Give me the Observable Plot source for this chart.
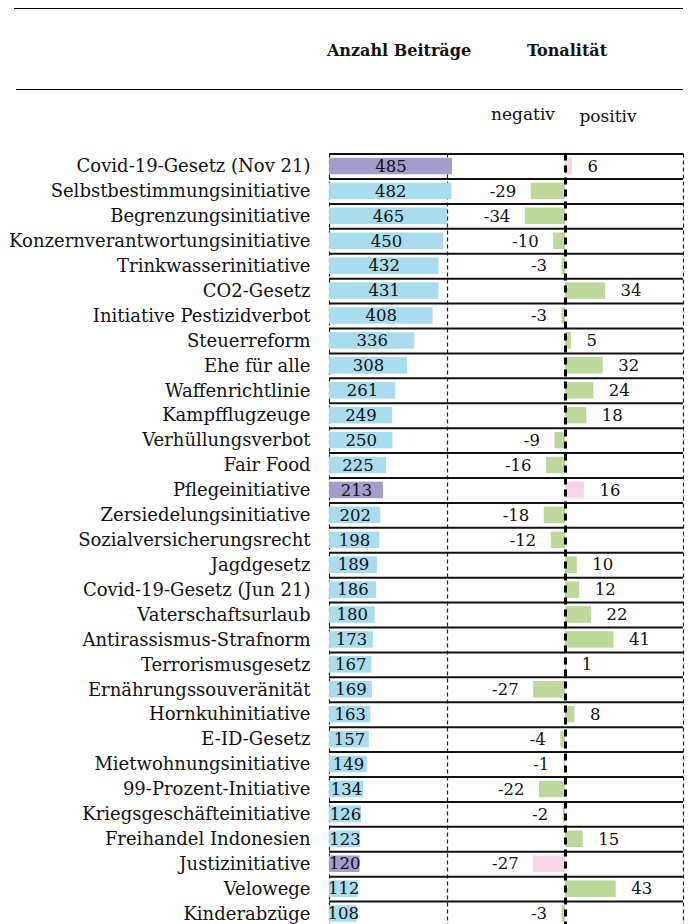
<!DOCTYPE html>
<html><head><meta charset="utf-8">
<script src="https://cdn.jsdelivr.net/npm/d3@7"></script>
<script src="https://cdn.jsdelivr.net/npm/@observablehq/plot@0.6"></script>
<style>
html,body{margin:0;padding:0;background:#fff;overflow:hidden;}
#wrap{position:relative;width:689px;height:924px;font-family:"DejaVu Serif";color:#111;overflow:hidden}
.hl{position:absolute;height:0;border-top:1.3px solid #000}
.t{position:absolute;transform:translateX(-50%);white-space:nowrap;line-height:1}
#chart{position:absolute;left:0;top:0}
</style></head><body>
<div id="wrap">
  <div id="chart"></div>
  <div class="hl" style="left:14px;width:669px;top:8px"></div>
  <div class="t" style="left:399px;top:43px;font-weight:bold;font-size:16px">Anzahl Beiträge</div>
  <div class="t" style="left:567px;top:43px;font-weight:bold;font-size:16px">Tonalität</div>
  <div class="hl" style="left:16px;width:667px;top:89px"></div>
  <div class="t" style="left:523px;top:106px;font-size:17px">negativ</div>
  <div class="t" style="left:608px;top:108px;font-size:17px">positiv</div>
</div>
<script>
const topics = [
  "Covid-19-Gesetz (Nov 21)", "Selbstbestimmungsinitiative", "Begrenzungsinitiative",
  "Konzernverantwortungsinitiative", "Trinkwasserinitiative", "CO2-Gesetz",
  "Initiative Pestizidverbot", "Steuerreform", "Ehe für alle", "Waffenrichtlinie",
  "Kampfflugzeuge", "Verhüllungsverbot", "Fair Food", "Pflegeinitiative",
  "Zersiedelungsinitiative", "Sozialversicherungsrecht", "Jagdgesetz",
  "Covid-19-Gesetz (Jun 21)", "Vaterschaftsurlaub", "Antirassismus-Strafnorm",
  "Terrorismusgesetz", "Ernährungssouveränität", "Hornkuhinitiative", "E-ID-Gesetz",
  "Mietwohnungsinitiative", "99-Prozent-Initiative", "Kriegsgeschäfteinitiative",
  "Freihandel Indonesien", "Justizinitiative", "Velowege", "Kinderabzüge"
];
const counts = [485, 482, 465, 450, 432, 431, 408, 336, 308, 261, 249, 250, 225, 213,
  202, 198, 189, 186, 180, 173, 167, 169, 163, 157, 149, 134, 126, 123, 120, 112, 108];
const tones = [6, -29, -34, -10, -3, 34, -3, 5, 32, 24, 18, -9, -16, 16,
  -18, -12, 10, 12, 22, 41, 1, -27, 8, -4, -1, -22, -2, 15, -27, 43, -3];
const highlighted = ["Covid-19-Gesetz (Nov 21)", "Pflegeinitiative", "Justizinitiative"];

const countSpan = 465;      // count value reaching the tonality panel's left edge
const countX = c => -200 + c * 100 / countSpan;

const data = topics.map((t, i) => ({topic: t, count: counts[i], tone: tones[i], hl: highlighted.includes(t)}));

const H = 926, MT = 153.55;
const step = (H - MT) / topics.length;

const chart = Plot.plot({
  width: 689, height: H,
  marginTop: MT, marginBottom: 0, marginLeft: 329, marginRight: 6,
  style: {fontFamily: "DejaVu Serif", fontSize: "16px", color: "#111", background: "transparent"},
  x: {domain: [-200, 100], axis: null},
  y: {domain: topics, padding: 0, round: false, axis: null, label: null},
  marks: [
    Plot.ruleX([-200, -100, 100], {stroke: "#222", strokeWidth: 1.2, strokeDasharray: "4,3"}),
    Plot.barX(data, {y: "topic", x1: -200, x2: d => countX(d.count), fill: d => d.hl ? "#a59ccc" : "#a9dcee", insetTop: 4.2, insetBottom: 4.2}),
    Plot.barX(data, {y: "topic", x1: 0, x2: "tone", fill: d => d.hl ? "#f8d5e6" : "#bdd89a", insetTop: 4.2, insetBottom: 4.2}),
    Plot.ruleY(data, {y: "topic", x1: -200, x2: 100, dy: -step / 2, stroke: "#111", strokeWidth: 2}),
    Plot.ruleX([0], {stroke: "#000", strokeWidth: 3, strokeDasharray: "7,5"}),
    Plot.text(data, {y: "topic", x: d => (-200 + countX(d.count)) / 2, text: d => String(d.count), fill: "#111", fontSize: 16.5}),
    Plot.text(data, {y: "topic", x: "tone", text: d => String(d.tone), fill: "#111", fontSize: 16.5,
      textAnchor: "start", filter: d => d.tone >= 0, dx: 15}),
    Plot.text(data, {y: "topic", x: "tone", text: d => String(d.tone), fill: "#111", fontSize: 16.5,
      textAnchor: "end", filter: d => d.tone < 0, dx: -15}),
    Plot.axisY({tickSize: 0, tickPadding: 19, fontSize: 18, fill: "#111", label: null})
  ]
});
document.getElementById("chart").appendChild(chart);
</script>
</body></html>
